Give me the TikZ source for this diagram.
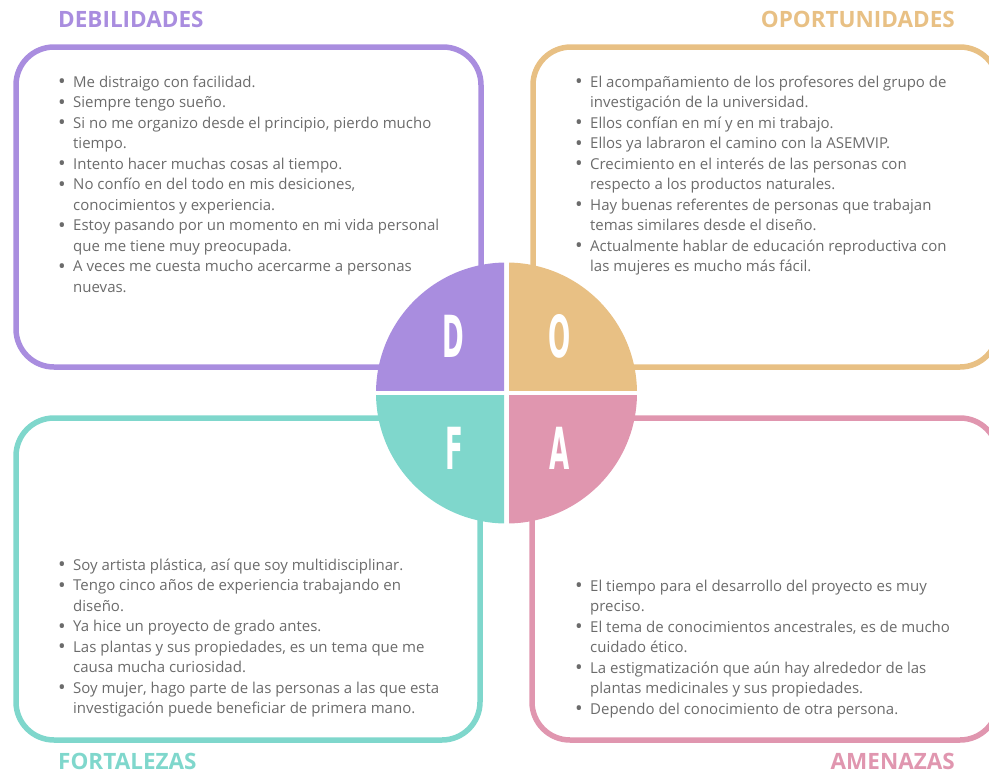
\documentclass[tikz,border=0pt]{standalone}
\usepackage{fontspec}
\setmainfont{Open Sans}
\newfontfamily\letrafont{DejaVu Sans}
\usepackage{xcolor}
\usepackage{tikz}

\definecolor{lila}{HTML}{A98DDF}
\definecolor{ocre}{HTML}{E8C084}
\definecolor{menta}{HTML}{7FD7CC}
\definecolor{rosa}{HTML}{E096AF}
\definecolor{texto}{HTML}{6B6B6B}
\newcommand{\vineta}{\raisebox{-0.12em}{\scalebox{1.35}{\textbullet}}}

\begin{document}
\begin{tikzpicture}[
    x = 1pt, y = -1pt,
    caja/.style = {line width=5.5pt, rounded corners=38pt},
    titulo/.style = {inner sep=0pt, font=\fontsize{22.5}{26}\selectfont\bfseries},
    letra/.style = {inner sep=0pt, text=white,
        font=\letrafont\fontsize{58}{60}\selectfont\bfseries},
    lista/.style = {anchor=base west, inner sep=0pt, text=texto,
        font=\fontsize{15}{20.5}\selectfont}
  ]
    \useasboundingbox (0,0) rectangle (989,774);

    % cajas
    \draw[caja, lila]  (16,47)   rectangle (481,367);
    \draw[caja, ocre]  (533,47)  rectangle (998,367);
    \draw[caja, menta] (16,418)  rectangle (480,740);
    \draw[caja, rosa]  (532,418) rectangle (998,740);

    % circulo DOFA
    \foreach \col/\xa/\ya/\xb/\yb in {lila/370/255/504/390, ocre/509/255/645/390,
        menta/370/395.5/504/530, rosa/509/395.5/645/530} {
      \begin{scope}
        \clip (\xa,\ya) rectangle (\xb,\yb);
        \fill[\col] (506.5,393) circle[radius=130.5pt];
      \end{scope}
    }
    \node[letra] (d) at (453,336) {\scalebox{0.45}[1]{D}};
    \node[letra] (o) at (560,336) {\scalebox{0.45}[1]{O}};
    \node[letra] (f) at (454,448) {\scalebox{0.45}[1]{F}};
    \node[letra] (a) at (560,448) {\scalebox{0.45}[1]{A}};

    % titulos
    \node[titulo, lila, anchor=base west]  (deb) at (58,27.5)  {DEBILIDADES};
    \node[titulo, ocre, anchor=base east]  (opo) at (955,27.5) {OPORTUNIDADES};
    \node[titulo, menta, anchor=base west] (fort) at (58,769) {FORTALEZAS};
    \node[titulo, rosa, anchor=base east]  (ame) at (955,769) {AMENAZAS};

    % listas
    \node[lista] (ldeb) at (58,87) {\begin{tabular}[t]{@{}p{15pt}@{}l@{}}
      \vineta & Me distraigo con facilidad.\\
      \vineta & Siempre tengo sueño.\\
      \vineta & Si no me organizo desde el principio, pierdo mucho\\
              & tiempo.\\
      \vineta & Intento hacer muchas cosas al tiempo.\\
      \vineta & No confío en del todo en mis desiciones,\\
              & conocimientos y experiencia.\\
      \vineta & Estoy pasando por un momento en mi vida personal\\
              & que me tiene muy preocupada.\\
      \vineta & A veces me cuesta mucho acercarme a personas\\
              & nuevas.
    \end{tabular}};
    \node[lista] (lopo) at (575,87) {\begin{tabular}[t]{@{}p{15pt}@{}l@{}}
      \vineta & El acompañamiento de los profesores del grupo de\\
              & investigación de la universidad.\\
      \vineta & Ellos confían en mí y en mi trabajo.\\
      \vineta & Ellos ya labraron el camino con la ASEMVIP.\\
      \vineta & Crecimiento en el interés de las personas con\\
              & respecto a los productos naturales.\\
      \vineta & Hay buenas referentes de personas que trabajan\\
              & temas similares desde el diseño.\\
      \vineta & Actualmente hablar de educación reproductiva con\\
              & las mujeres es mucho más fácil.
    \end{tabular}};
    \node[lista] (lfort) at (58,570) {\begin{tabular}[t]{@{}p{15pt}@{}l@{}}
      \vineta & Soy artista plástica, así que soy multidisciplinar.\\
      \vineta & Tengo cinco años de experiencia trabajando en\\
              & diseño.\\
      \vineta & Ya hice un proyecto de grado antes.\\
      \vineta & Las plantas y sus propiedades, es un tema que me\\
              & causa mucha curiosidad.\\
      \vineta & Soy mujer, hago parte de las personas a las que esta\\
              & investigación puede beneficiar de primera mano.
    \end{tabular}};
    \node[lista] (lame) at (575,591) {\begin{tabular}[t]{@{}p{15pt}@{}l@{}}
      \vineta & El tiempo para el desarrollo del proyecto es muy\\
              & preciso.\\
      \vineta & El tema de conocimientos ancestrales, es de mucho\\
              & cuidado ético.\\
      \vineta & La estigmatización que aún hay alrededor de las\\
              & plantas medicinales y sus propiedades.\\
      \vineta & Dependo del conocimiento de otra persona.
    \end{tabular}};
\end{tikzpicture}
\end{document}
